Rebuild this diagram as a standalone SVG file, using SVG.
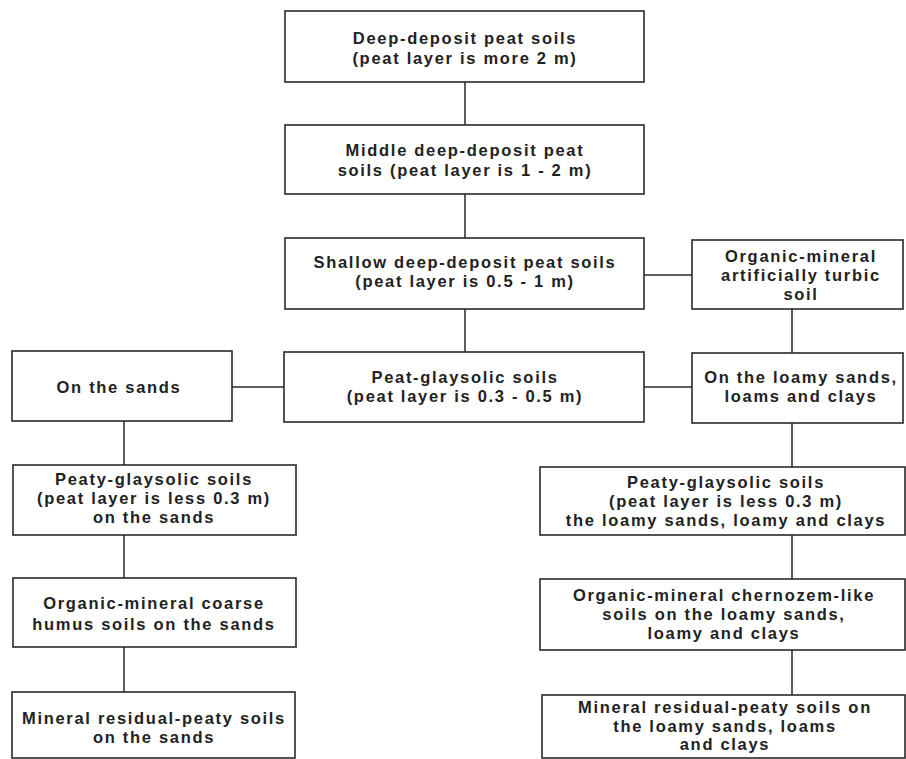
<svg xmlns="http://www.w3.org/2000/svg" width="906" height="759" viewBox="0 0 906 759">
<style>
.box{fill:#fff;stroke:#2a2a2a;stroke-width:1.6}
.c{fill:none;stroke:#2a2a2a;stroke-width:1.5}
text{font-family:"Liberation Sans",Arial,Helvetica,sans-serif;font-size:16.5px;font-weight:bold;letter-spacing:1.7px;fill:#222;text-anchor:middle}
</style>
<rect width="906" height="759" fill="#fff"/>
<g id="connectors">
<path class="c" d="M465 82V125M465 194V238M465 309V352M644 275H692M792 309V353M232 387H284M644 387H692M124 421V465M124 535V578M124 647V692M792 423V467M792 535V579M792 650V695"/>
</g>
<g id="deep">
<rect class="box" x="285" y="11" width="359" height="71"/>
<text x="465" y="44">Deep-deposit peat soils</text>
<text x="465" y="64">(peat layer is more 2 m)</text>
</g>
<g id="middle">
<rect class="box" x="285" y="125" width="359" height="69"/>
<text x="465" y="156">Middle deep-deposit peat</text>
<text x="465" y="176">soils (peat layer is 1 - 2 m)</text>
</g>
<g id="shallow">
<rect class="box" x="285" y="238" width="359" height="71"/>
<text x="465" y="268">Shallow deep-deposit peat soils</text>
<text x="465" y="287">(peat layer is 0.5 - 1 m)</text>
</g>
<g id="turbic">
<rect class="box" x="692" y="240" width="211" height="69"/>
<text x="801" y="262">Organic-mineral</text>
<text x="801" y="281">artificially turbic</text>
<text x="801" y="300">soil</text>
</g>
<g id="sands">
<rect class="box" x="12" y="351" width="220" height="70"/>
<text x="119" y="393">On the sands</text>
</g>
<g id="peatgley">
<rect class="box" x="284" y="352" width="360" height="70"/>
<text x="465" y="383">Peat-glaysolic soils</text>
<text x="465" y="402">(peat layer is 0.3 - 0.5 m)</text>
</g>
<g id="loamy">
<rect class="box" x="692" y="353" width="211" height="70"/>
<text x="801" y="383">On the loamy sands,</text>
<text x="801" y="402">loams and clays</text>
</g>
<g id="peaty-sands">
<rect class="box" x="13" y="465" width="283" height="70"/>
<text x="154" y="485">Peaty-glaysolic soils</text>
<text x="154" y="504">(peat layer is less 0.3 m)</text>
<text x="154" y="523">on the sands</text>
</g>
<g id="peaty-loamy">
<rect class="box" x="540" y="467" width="365" height="68"/>
<text x="726" y="488">Peaty-glaysolic soils</text>
<text x="726" y="507">(peat layer is less 0.3 m)</text>
<text x="726" y="526">the loamy sands, loamy and clays</text>
</g>
<g id="humus-sands">
<rect class="box" x="13" y="578" width="283" height="69"/>
<text x="154" y="609">Organic-mineral coarse</text>
<text x="154" y="630">humus soils on the sands</text>
</g>
<g id="chernozem-loamy">
<rect class="box" x="540" y="579" width="365" height="71"/>
<text x="724" y="601">Organic-mineral chernozem-like</text>
<text x="724" y="620">soils on the loamy sands,</text>
<text x="724" y="639">loamy and clays</text>
</g>
<g id="residual-sands">
<rect class="box" x="12" y="692" width="283" height="66"/>
<text x="154" y="724">Mineral residual-peaty soils</text>
<text x="154" y="743">on the sands</text>
</g>
<g id="residual-loamy">
<rect class="box" x="542" y="695" width="363" height="63"/>
<text x="725" y="713">Mineral residual-peaty soils on</text>
<text x="725" y="731.5">the loamy sands, loams</text>
<text x="725" y="750">and clays</text>
</g>
</svg>
